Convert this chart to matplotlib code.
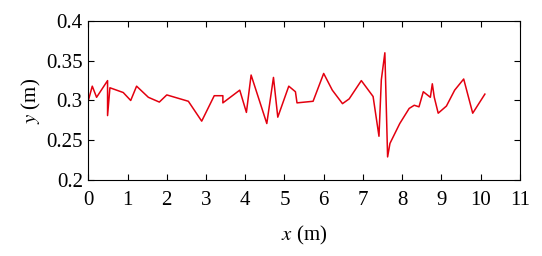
import matplotlib
matplotlib.use('Agg')
import matplotlib.pyplot as plt

# digitised trajectory
x_m = [0.0, 0.1, 0.21, 0.49, 0.49, 0.55, 0.89, 1.08, 1.23, 1.53, 1.81, 2.0,
       2.55, 2.89, 3.21, 3.43, 3.43, 3.86, 4.03, 4.15, 4.55, 4.72, 4.83,
       5.11, 5.28, 5.32, 5.73, 6.0, 6.22, 6.48, 6.65, 6.96, 7.26, 7.41,
       7.47, 7.56, 7.63, 7.69, 7.94, 8.18, 8.31, 8.43, 8.54, 8.72, 8.77,
       8.82, 8.92, 9.13, 9.34, 9.57, 9.80, 10.11]
y_m = [0.300, 0.318, 0.304, 0.325, 0.281, 0.316, 0.310, 0.300, 0.318, 0.304,
       0.298, 0.307, 0.299, 0.274, 0.306, 0.306, 0.297, 0.313, 0.285, 0.332,
       0.271, 0.329, 0.279, 0.318, 0.311, 0.297, 0.299, 0.334, 0.313, 0.296,
       0.302, 0.325, 0.305, 0.255, 0.326, 0.360, 0.229, 0.246, 0.271, 0.290,
       0.294, 0.292, 0.311, 0.304, 0.321, 0.304, 0.284, 0.293, 0.313, 0.327,
       0.284, 0.308]

x_ticks = list(range(0, 12))
y_ticks = [0.2, 0.25, 0.3, 0.35, 0.4]
y_labels = ['0.2', '0.25', '0.3', '0.35', '0.4']

plt.rcParams['font.family'] = ['Liberation Serif', 'DejaVu Serif']
plt.rcParams['mathtext.fontset'] = 'stix'

fig = plt.figure(figsize=(5.42, 2.56), dpi=100)
ax = fig.add_axes([0.163, 0.297, 0.796, 0.621])
ax.plot(x_m, y_m, color='#e3000f', linewidth=1.1)

ax.set_xlim(0, 11)
ax.set_ylim(0.2, 0.4)
ax.set_xticks(x_ticks)
ax.set_yticks(y_ticks)
ax.set_yticklabels(y_labels)
ax.tick_params(direction='in', top=True, right=True, labelsize=15, length=4, width=0.8)
ax.tick_params(axis='x', pad=8)
ax.tick_params(axis='y', pad=4)
for s in ax.spines.values():
    s.set_linewidth(0.8)

ax.set_xlabel('$x$ (m)', fontsize=15, labelpad=10)
ax.set_ylabel('$y$ (m)', fontsize=15, labelpad=2)

fig.savefig('out.png', dpi=100)
